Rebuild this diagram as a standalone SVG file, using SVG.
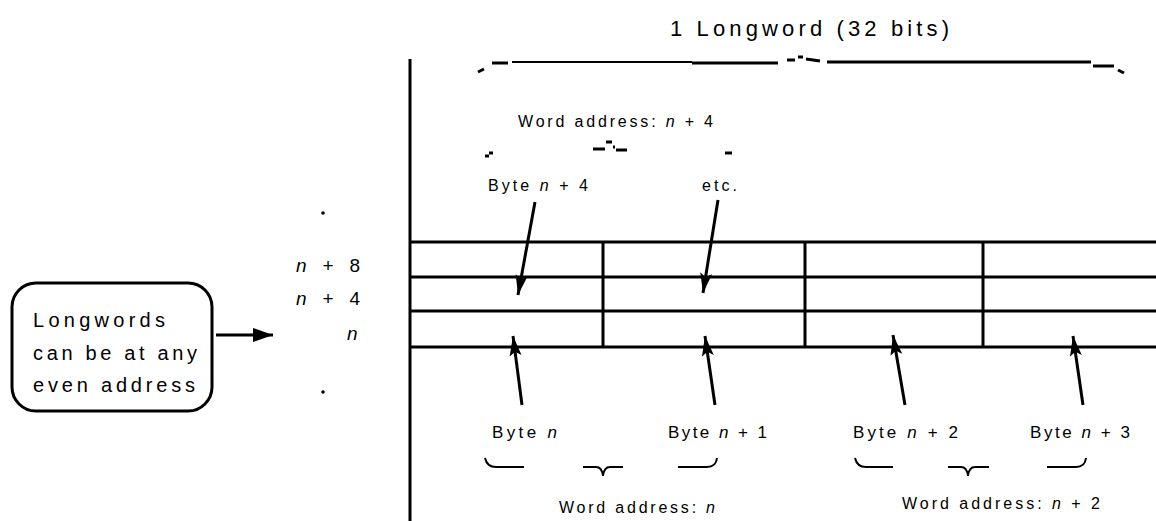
<svg xmlns="http://www.w3.org/2000/svg" width="1156" height="521" viewBox="0 0 1156 521">
  <defs>
    <marker id="head" markerUnits="userSpaceOnUse" markerWidth="22" markerHeight="14" refX="20" refY="7" orient="auto">
      <path d="M0,0 L20,7 L0,14 Z" fill="#000"/>
    </marker>
    <marker id="headSmall" markerUnits="userSpaceOnUse" markerWidth="22" markerHeight="14" refX="20" refY="7" orient="auto">
      <path d="M0,1 L20,7 L0,13 L4,7 Z" fill="#000"/>
    </marker>
  </defs>
  <style>
    text { font-family: "Liberation Sans", Arial, sans-serif; fill: #000; }
    .big { font-size: 22px; }
    .mid { font-size: 19px; }
    .box { font-size: 20px; }
    .lbl { font-size: 16px; }
    .byte { font-size: 17px; }
    .grid { stroke: #000; stroke-width: 3; fill: none; }
    .brace { stroke: #000; stroke-width: 2; fill: none; }
    .frag { stroke: #000; stroke-width: 3; fill: none; }
    .conn { stroke: #000; stroke-width: 3; fill: none; marker-end: url(#headSmall); }
    i, .it { font-style: italic; }
  </style>

  <rect width="1156" height="521" fill="#fff"/>

  <!-- memory table -->
  <g id="memory-table">
    <line class="grid" x1="410" y1="59" x2="410" y2="521"/>
    <line class="grid" x1="410" y1="242" x2="1156" y2="242"/>
    <line class="grid" x1="410" y1="277" x2="1156" y2="277"/>
    <line class="grid" x1="410" y1="311" x2="1156" y2="311"/>
    <line class="grid" x1="410" y1="347" x2="1156" y2="347"/>
    <line class="grid" x1="603" y1="242" x2="603" y2="347"/>
    <line class="grid" x1="805" y1="242" x2="805" y2="347"/>
    <line class="grid" x1="983" y1="242" x2="983" y2="347"/>
  </g>

  <!-- longword brace and title -->
  <g id="longword">
    <text class="big" x="670" y="36" textLength="279" lengthAdjust="spacing">1 Longword (32 bits)</text>
    <path class="frag" d="M478,72 L484,69"/>
    <path class="frag" d="M492,63 L508,63"/>
    <path class="brace" d="M512,62 L692,62"/>
    <path class="frag" d="M692,63 L778,63"/>
    <path class="frag" d="M787,60 L795,60 M798,57 L803,57 M806,59 L820,61"/>
    <path class="frag" d="M827,62 L1091,62"/>
    <path class="frag" d="M1093,66 L1114,66"/>
    <path class="frag" d="M1118,70 L1124,73"/>
  </g>

  <!-- upper word address -->
  <g id="word-n4">
    <text class="lbl" x="518" y="127" textLength="195" lengthAdjust="spacing">Word address: <tspan class="it">n</tspan> + 4</text>
    <path class="frag" d="M485,156 L489,156 M489,153 L493,153"/>
    <path class="frag" d="M593,149 L605,149 M606,142 L612,142 M613,147 L615,147 M616,150 L627,150"/>
    <path class="frag" d="M725,153 L732,153"/>
  </g>

  <g id="byte-n4">
    <text class="lbl" x="488" y="191" textLength="100" lengthAdjust="spacing">Byte <tspan class="it">n</tspan> + 4</text>
  </g>
  <g id="etc">
    <text class="lbl" x="702" y="191" textLength="35" lengthAdjust="spacing">etc.</text>
  </g>

  <!-- row addresses -->
  <g id="row-addresses">
    <text class="mid" x="296" y="272" textLength="64" lengthAdjust="spacing"><tspan class="it">n</tspan> + 8</text>
    <text class="mid" x="296" y="305" textLength="64" lengthAdjust="spacing"><tspan class="it">n</tspan> + 4</text>
    <text class="mid it" x="347" y="340">n</text>
    <circle cx="323" cy="213" r="1.8" fill="#000"/>
    <circle cx="323" cy="392" r="1.8" fill="#000"/>
  </g>

  <!-- note box -->
  <g id="note">
    <rect x="12" y="283" width="200" height="128" rx="24" ry="24" fill="none" stroke="#000" stroke-width="3"/>
    <text class="box" x="33" y="327" textLength="132" lengthAdjust="spacing">Longwords</text>
    <text class="box" x="33" y="360" textLength="164" lengthAdjust="spacing">can be at any</text>
    <text class="box" x="33" y="392" textLength="162" lengthAdjust="spacing">even address</text>
  </g>

  <!-- byte labels -->
  <g id="byte-n"><text class="byte" x="492" y="438" textLength="65" lengthAdjust="spacing">Byte <tspan class="it">n</tspan></text></g>
  <g id="byte-n1"><text class="byte" x="668" y="438" textLength="99" lengthAdjust="spacing">Byte <tspan class="it">n</tspan> + 1</text></g>
  <g id="byte-n2"><text class="byte" x="853" y="438" textLength="105" lengthAdjust="spacing">Byte <tspan class="it">n</tspan> + 2</text></g>
  <g id="byte-n3"><text class="byte" x="1030" y="438" textLength="100" lengthAdjust="spacing">Byte <tspan class="it">n</tspan> + 3</text></g>

  <!-- lower word addresses -->
  <g id="word-n">
    <path class="brace" d="M485,458 Q487,467 496,467 L524,467"/>
    <path class="brace" d="M583,467 L596,467 Q602,467 603,476 Q604,467 610,467 L623,467"/>
    <path class="brace" d="M678,467 L707,467 Q716,467 717,458"/>
    <text class="lbl" x="559" y="513" textLength="156" lengthAdjust="spacing">Word address: <tspan class="it">n</tspan></text>
  </g>
  <g id="word-n2">
    <path class="brace" d="M855,458 Q857,467 866,467 L893,467"/>
    <path class="brace" d="M948,467 L961,467 Q967,467 968,476 Q969,467 975,467 L989,467"/>
    <path class="brace" d="M1047,467 L1076,467 Q1085,467 1086,458"/>
    <text class="lbl" x="902" y="509" textLength="198" lengthAdjust="spacing">Word address: <tspan class="it">n</tspan> + 2</text>
  </g>

  <!-- connectors -->
  <g id="connectors">
    <line x1="216" y1="335" x2="273" y2="335" stroke="#000" stroke-width="3" marker-end="url(#head)"/>
    <line class="conn" x1="535" y1="202" x2="518" y2="295"/>
    <line class="conn" x1="718" y1="200" x2="703" y2="293"/>
    <line class="conn" x1="522" y1="405" x2="513" y2="336"/>
    <line class="conn" x1="715" y1="405" x2="705" y2="336"/>
    <line class="conn" x1="905" y1="405" x2="893" y2="335"/>
    <line class="conn" x1="1083" y1="405" x2="1073" y2="336"/>
  </g>
</svg>
